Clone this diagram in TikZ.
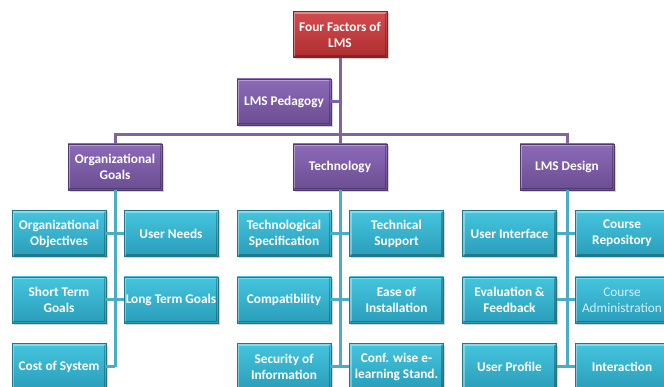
\documentclass[tikz,border=0pt]{standalone}
\usepackage{fontspec}
\setmainfont{Carlito}
\usetikzlibrary{shadows}
\definecolor{redtop}{HTML}{D14C4E}
\definecolor{redbot}{HTML}{B02E30}
\definecolor{purtop}{HTML}{8C6BB7}
\definecolor{purbot}{HTML}{6B4D92}
\definecolor{cyantop}{HTML}{45C5DF}
\definecolor{cyanbot}{HTML}{2A9DB9}
\definecolor{purline}{HTML}{8064A2}
\definecolor{cyanline}{HTML}{4BACC6}
\tikzset{
    bevel/.style={path picture={
        \draw[white, opacity=.35, line width=1.5pt]
            ([shift={(1.5pt,1.5pt)}]path picture bounding box.south west) |-
            ([shift={(-1.5pt,-1.5pt)}]path picture bounding box.north east);
        \draw[black, opacity=.25, line width=1.5pt]
            ([shift={(1.5pt,1.5pt)}]path picture bounding box.south west) -|
            ([shift={(-1.5pt,-1.5pt)}]path picture bounding box.north east);}},
    box/.style={rectangle, minimum width=94pt, minimum height=46pt, inner sep=1pt,
        align=center, text=white, font=\bfseries\fontsize{13.3}{16}\selectfont,
        drop shadow={shadow xshift=1.5pt, shadow yshift=-2pt, opacity=.35}, bevel},
    rootbox/.style={box, top color=redtop, bottom color=redbot, draw=redbot!75!black},
    factor/.style={box, top color=purtop, bottom color=purbot, draw=purbot!75!black},
    item/.style={box, top color=cyantop, bottom color=cyanbot, draw=cyanbot!75!black},
    plainitem/.style={item, font=\fontsize{13.3}{16}\selectfont, text=white!82!cyan},
    upper/.style={purline, line width=3pt},
    lower/.style={cyanline, line width=3pt},
}

\begin{document}
\begin{tikzpicture}[x=1pt, y=-1pt]
        \useasboundingbox (0,0) rectangle (664,387);
        \clip (0,0) rectangle (664,387);
        \node[rootbox] (root) at (340,34.5) {Four Factors of\\LMS};
        \node[factor] (pedagogy) at (284,102) {LMS Pedagogy};
        \node[factor] (goals) at (115,167) {Organizational\\Goals};
        \node[factor] (tech) at (340,167) {Technology};
        \node[factor] (design) at (567,167) {LMS Design};
        \foreach \n/\x/\y/\txt in {obj/59/233.5/{Organizational\\Objectives}, needs/171/233.5/{User Needs},
            short/59/300/{Short Term\\Goals}, long/171/300/{Long Term Goals}, cost/59/366.5/{Cost of System},
            spec/284/233.5/{Technological\\Specification}, support/396.5/233.5/{Technical\\Support},
            compat/284/300/{Compatibility}, ease/396.5/300/{Ease of\\Installation},
            secur/284/366.5/{Security of\\Information}, conf/396.5/366.5/{Conf. wise e-\\learning Stand.},
            ui/509.5/233.5/{User Interface}, repo/622/233.5/{Course\\Repository},
            eval/509.5/300/{Evaluation \&\\Feedback}, profile/509.5/366.5/{User Profile},
            interact/622/366.5/{Interaction}}
            \node[item] (\n) at (\x,\y) {\txt};
        \node[plainitem] (admin) at (622,300) {Course\\Administration};
        \coordinate (bar) at (340,135);
        \draw[upper] (root) -- (tech);
        \draw[upper] (pedagogy.east) -- (pedagogy.east -| root.south);
        \draw[upper] (goals.north) |- (bar) -| (design.north);
        \draw[lower] (goals.south) -- (goals.south |- cost.east);
        \draw[lower] (tech.south) -- (tech.south |- secur.east);
        \draw[lower] (design.south) -- (design.south |- profile.east);
        \foreach \a/\b in {obj/needs, short/long, spec/support, compat/ease, secur/conf,
            ui/repo, eval/admin, profile/interact}
            \draw[lower] (\a.east) -- (\b.west);
        \draw[lower] (cost.east) -- (cost.east -| goals.south);
    \end{tikzpicture}
\end{document}
